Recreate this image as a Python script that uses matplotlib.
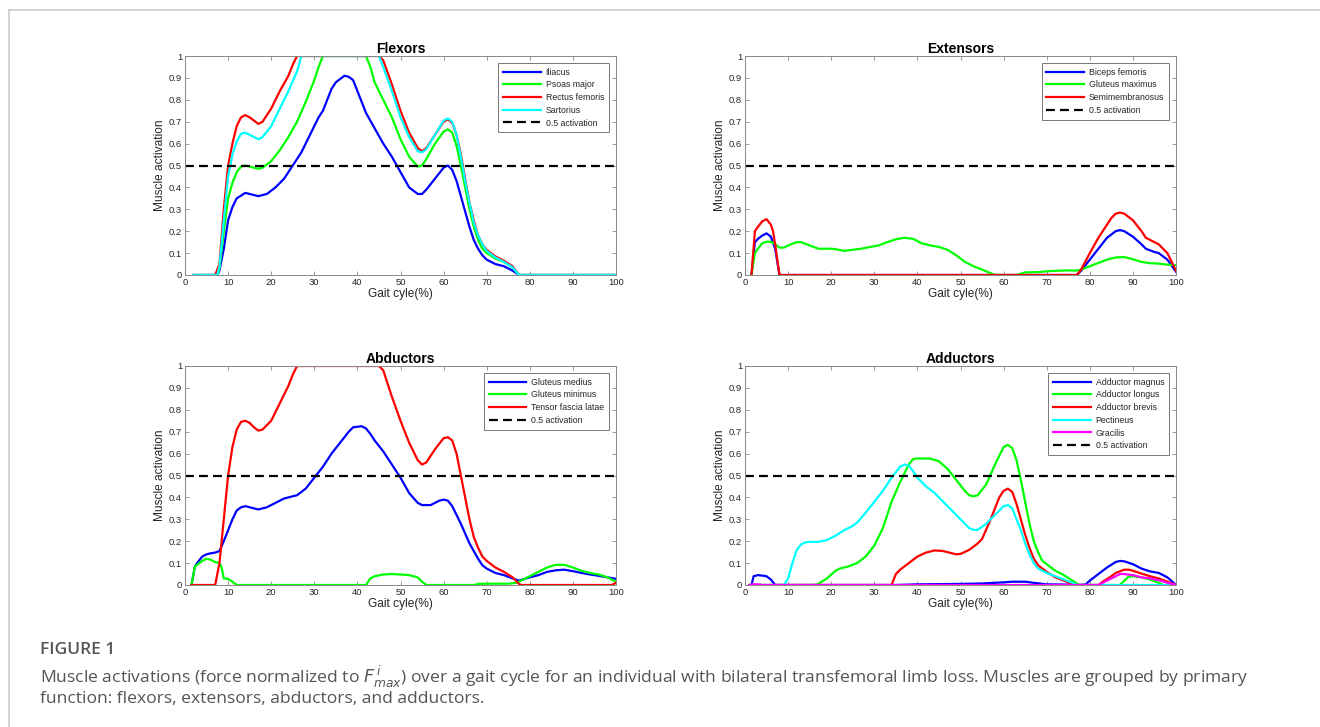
import matplotlib
matplotlib.use("Agg")
import matplotlib.pyplot as plt
from matplotlib.lines import Line2D

# ---------------- data ----------------
# Flexors
ili_x = [2, 7.5, 8, 9, 10, 11, 12, 14, 15, 17, 19, 21, 23, 25, 27, 29, 31, 32, 33, 34, 35, 37, 38, 39, 40, 41, 42, 44, 46, 48, 50, 52, 54, 55, 56, 58, 60, 61, 62, 63, 64, 65, 66, 67, 68, 69, 70, 72, 74, 76, 77.5, 100]
ili_y = [0, 0, 0.02, 0.12, 0.25, 0.31, 0.35, 0.375, 0.37, 0.36, 0.37, 0.4, 0.44, 0.5, 0.56, 0.64, 0.72, 0.75, 0.8, 0.85, 0.88, 0.91, 0.905, 0.89, 0.84, 0.79, 0.74, 0.67, 0.6, 0.54, 0.47, 0.4, 0.37, 0.37, 0.39, 0.44, 0.49, 0.5, 0.48, 0.43, 0.36, 0.29, 0.22, 0.16, 0.12, 0.09, 0.07, 0.05, 0.04, 0.02, 0, 0]
pso_x = [2, 7.5, 8, 9, 10, 11, 12, 13, 14, 15, 17, 18, 20, 22, 24, 26, 28, 30, 31, 32, 42, 43, 44, 46, 48, 50, 52, 54, 55, 56, 58, 60, 61, 62, 63, 64, 65, 66, 67, 68, 69, 70, 72, 74, 76, 77.5, 100]
pso_y = [0, 0, 0.03, 0.2, 0.35, 0.42, 0.47, 0.495, 0.5, 0.495, 0.485, 0.49, 0.52, 0.57, 0.63, 0.7, 0.79, 0.89, 0.95, 1.0, 1.0, 0.95, 0.88, 0.8, 0.72, 0.62, 0.54, 0.495, 0.5, 0.53, 0.6, 0.655, 0.665, 0.65, 0.59, 0.5, 0.4, 0.3, 0.22, 0.16, 0.12, 0.1, 0.075, 0.06, 0.035, 0, 0]
rec_x = [2, 7, 8, 9, 10, 11, 12, 13, 14, 15, 17, 18, 20, 22, 24, 25, 26, 45, 46, 48, 50, 52, 54, 55, 56, 58, 60, 61, 62, 63, 64, 65, 66, 67, 68, 69, 70, 72, 74, 76, 77.5, 100]
rec_y = [0, 0, 0.05, 0.3, 0.5, 0.6, 0.68, 0.72, 0.73, 0.72, 0.69, 0.7, 0.76, 0.84, 0.91, 0.96, 1.0, 1.0, 0.98, 0.87, 0.75, 0.65, 0.58, 0.565, 0.58, 0.64, 0.7, 0.71, 0.695, 0.64, 0.55, 0.44, 0.33, 0.25, 0.18, 0.14, 0.115, 0.085, 0.065, 0.04, 0, 0]
sar_x = [2, 7.5, 8, 9, 10, 11, 12, 13, 14, 15, 17, 18, 20, 22, 24, 26, 27, 45, 46, 48, 50, 52, 54, 55, 56, 58, 60, 61, 62, 63, 64, 65, 66, 67, 68, 69, 70, 72, 74, 76, 77.5, 100]
sar_y = [0, 0, 0.04, 0.25, 0.45, 0.55, 0.61, 0.645, 0.65, 0.64, 0.62, 0.63, 0.68, 0.76, 0.84, 0.93, 1.0, 1.0, 0.95, 0.84, 0.72, 0.63, 0.565, 0.56, 0.575, 0.64, 0.705, 0.715, 0.7, 0.64, 0.54, 0.43, 0.33, 0.24, 0.18, 0.14, 0.11, 0.08, 0.06, 0.035, 0, 0]

# Extensors
bic_x = [1.5, 2.3, 3, 4, 5, 6, 7, 8, 77, 78, 80, 82, 84, 86, 87, 88, 90, 92, 93, 95, 96, 98, 100]
bic_y = [0, 0.15, 0.165, 0.18, 0.19, 0.175, 0.12, 0, 0, 0.02, 0.07, 0.12, 0.17, 0.2, 0.205, 0.2, 0.175, 0.14, 0.12, 0.105, 0.1, 0.07, 0.015]
gmax_x = [1.5, 2.3, 3, 4, 5, 6, 7, 8, 9, 10, 12, 13, 15, 17, 20, 21, 23, 25, 27, 29, 31, 33, 35, 37, 39, 41, 43, 45, 47, 49, 51, 53, 55, 57, 58, 63, 65, 68, 70, 72, 75, 77, 78, 80, 82, 84, 86, 88, 90, 92, 94, 96, 98, 100]
gmax_y = [0, 0.1, 0.12, 0.145, 0.152, 0.152, 0.14, 0.125, 0.125, 0.135, 0.15, 0.15, 0.135, 0.12, 0.12, 0.118, 0.11, 0.115, 0.12, 0.128, 0.135, 0.15, 0.163, 0.17, 0.165, 0.145, 0.135, 0.128, 0.115, 0.09, 0.06, 0.04, 0.025, 0.008, 0, 0, 0.012, 0.013, 0.017, 0.019, 0.021, 0.02, 0.025, 0.04, 0.055, 0.07, 0.08, 0.082, 0.072, 0.06, 0.054, 0.052, 0.047, 0.045]
semi_x = [1.5, 2.3, 3, 4, 5, 6, 6.5, 7, 8, 77, 78, 80, 82, 84, 85, 86, 87, 88, 90, 92, 93, 95, 96, 98, 99, 100]
semi_y = [0, 0.2, 0.22, 0.245, 0.255, 0.23, 0.2, 0.14, 0, 0, 0.025, 0.1, 0.17, 0.23, 0.26, 0.28, 0.285, 0.28, 0.25, 0.2, 0.17, 0.15, 0.14, 0.1, 0.06, 0.02]

# Abductors
gmed_x = [1.5, 2.3, 3, 4, 5, 6, 7, 8, 9, 10, 11, 12, 13, 14, 15, 17, 19, 21, 23, 25, 26, 27, 28, 30, 32, 34, 36, 38, 39, 41, 42, 43, 44, 46, 48, 50, 52, 54, 55, 57, 59, 60, 61, 62, 64, 66, 68, 69, 70, 72, 74, 76, 77.5, 80, 82, 84, 86, 88, 90, 92, 94, 96, 98, 100]
gmed_y = [0, 0.085, 0.105, 0.13, 0.14, 0.145, 0.148, 0.155, 0.2, 0.25, 0.3, 0.34, 0.355, 0.36, 0.355, 0.345, 0.355, 0.375, 0.395, 0.405, 0.41, 0.425, 0.44, 0.49, 0.54, 0.6, 0.65, 0.7, 0.72, 0.725, 0.715, 0.69, 0.66, 0.61, 0.55, 0.49, 0.42, 0.375, 0.365, 0.365, 0.385, 0.39, 0.385, 0.36, 0.28, 0.19, 0.12, 0.09, 0.075, 0.055, 0.045, 0.03, 0.02, 0.035, 0.045, 0.06, 0.067, 0.07, 0.063, 0.055, 0.048, 0.042, 0.035, 0.028]
gmin_x = [1.5, 2.3, 3, 4, 5, 6, 7, 8, 8.5, 9, 10, 11, 12, 42, 43, 44, 46, 48, 50, 52, 54, 55, 56, 67, 68, 70, 75, 77, 78, 80, 82, 84, 86, 88, 90, 92, 94, 96, 98, 100]
gmin_y = [0, 0.085, 0.095, 0.11, 0.12, 0.115, 0.105, 0.1, 0.08, 0.03, 0.028, 0.015, 0, 0, 0.03, 0.04, 0.048, 0.05, 0.048, 0.045, 0.035, 0.015, 0, 0, 0.005, 0.006, 0.006, 0.01, 0.02, 0.04, 0.06, 0.08, 0.092, 0.092, 0.08, 0.065, 0.055, 0.048, 0.035, 0.015]
tfl_x = [1.5, 7, 8, 9, 10, 11, 12, 13, 14, 15, 16, 17, 18, 20, 22, 24, 25, 26, 45, 46, 47, 48, 50, 52, 54, 55, 56, 58, 60, 61, 62, 63, 64, 65, 66, 67, 68, 69, 70, 72, 74, 76, 77.5, 78, 99, 100]
tfl_y = [0, 0, 0.1, 0.3, 0.5, 0.63, 0.71, 0.745, 0.75, 0.74, 0.72, 0.705, 0.71, 0.75, 0.83, 0.91, 0.96, 1.0, 1.0, 0.98, 0.92, 0.86, 0.75, 0.65, 0.57, 0.55, 0.56, 0.62, 0.67, 0.675, 0.66, 0.6, 0.5, 0.4, 0.3, 0.22, 0.17, 0.13, 0.11, 0.08, 0.06, 0.035, 0.005, 0, 0, 0.01]

# Adductors
amag_x = [1.5, 2, 3, 4, 5, 6, 7, 35, 40, 45, 50, 55, 58, 60, 62, 65, 67, 70, 75, 77, 79, 80, 82, 84, 86, 87, 88, 90, 92, 94, 96, 98, 100]
amag_y = [0, 0.04, 0.045, 0.043, 0.04, 0.025, 0, 0, 0.003, 0.004, 0.005, 0.007, 0.01, 0.012, 0.015, 0.015, 0.01, 0.003, 0.002, 0, 0.002, 0.02, 0.05, 0.08, 0.105, 0.11, 0.108, 0.095, 0.075, 0.062, 0.055, 0.035, 0]
alon_x = [1.5, 16, 17, 19, 21, 22, 24, 26, 28, 30, 32, 34, 36, 38, 39, 40, 43, 45, 47, 49, 51, 52, 53, 54, 56, 58, 60, 61, 62, 63, 64, 65, 66, 67, 68, 69, 70, 72, 74, 76, 77.5, 87, 88, 89, 90, 92, 94, 96, 97, 100]
alon_y = [0, 0, 0.005, 0.03, 0.065, 0.075, 0.085, 0.1, 0.13, 0.18, 0.26, 0.38, 0.47, 0.55, 0.575, 0.578, 0.577, 0.565, 0.53, 0.48, 0.43, 0.41, 0.405, 0.41, 0.46, 0.55, 0.63, 0.64, 0.625, 0.57, 0.48, 0.38, 0.28, 0.2, 0.15, 0.11, 0.095, 0.065, 0.045, 0.02, 0, 0, 0.02, 0.038, 0.04, 0.035, 0.025, 0.01, 0, 0]
abre_x = [1, 34, 35, 36, 38, 40, 42, 44, 46, 48, 49, 50, 52, 54, 55, 57, 59, 60, 61, 62, 63, 64, 65, 66, 67, 68, 70, 72, 74, 76, 77, 82, 83, 85, 86, 88, 89, 90, 92, 94, 96, 98, 100]
abre_y = [0, 0, 0.05, 0.07, 0.1, 0.13, 0.148, 0.158, 0.155, 0.145, 0.14, 0.142, 0.16, 0.19, 0.21, 0.3, 0.4, 0.43, 0.44, 0.425, 0.37, 0.3, 0.23, 0.17, 0.12, 0.09, 0.06, 0.035, 0.02, 0.005, 0, 0, 0.015, 0.04, 0.055, 0.07, 0.07, 0.065, 0.052, 0.04, 0.03, 0.015, 0]
pect_x = [1, 9, 10, 11, 12, 13, 14, 15, 17, 19, 21, 23, 25, 26, 28, 30, 32, 34, 36, 37, 38, 39, 40, 42, 44, 46, 48, 50, 52, 53, 54, 56, 58, 60, 61, 62, 63, 64, 65, 66, 67, 68, 70, 72, 74, 76, 77, 100]
pect_y = [0, 0, 0.03, 0.1, 0.16, 0.185, 0.195, 0.197, 0.197, 0.205, 0.225, 0.25, 0.27, 0.285, 0.33, 0.38, 0.43, 0.49, 0.54, 0.55, 0.545, 0.52, 0.49, 0.45, 0.42, 0.38, 0.34, 0.3, 0.26, 0.252, 0.252, 0.28, 0.32, 0.36, 0.365, 0.35, 0.3, 0.25, 0.19, 0.14, 0.1, 0.075, 0.055, 0.04, 0.025, 0.01, 0, 0]
grac_x = [1, 2, 3, 4, 82, 83, 85, 87, 88, 90, 92, 94, 96, 98, 100]
grac_y = [0, 0.003, 0.003, 0, 0, 0.01, 0.03, 0.05, 0.05, 0.045, 0.035, 0.03, 0.022, 0.01, 0]

titles = ["Flexors", "Extensors", "Abductors", "Adductors"]
x_ticks = list(range(0, 101, 10))
y_ticks = [0, 0.1, 0.2, 0.3, 0.4, 0.5, 0.6, 0.7, 0.8, 0.9, 1]
y_ticklabels = ["0", "0.1", "0.2", "0.3", "0.4", "0.5", "0.6", "0.7", "0.8", "0.9", "1"]

BLUE, GREEN, RED, CYAN, MAG = "#0000ff", "#00ff00", "#ff0000", "#00ffff", "#ff00ff"

panels = [
    [(ili_x, ili_y, "Iliacus", BLUE), (pso_x, pso_y, "Psoas major", GREEN),
     (rec_x, rec_y, "Rectus femoris", RED), (sar_x, sar_y, "Sartorius", CYAN)],
    [(bic_x, bic_y, "Biceps femoris", BLUE), (gmax_x, gmax_y, "Gluteus maximus", GREEN),
     (semi_x, semi_y, "Semimembranosus", RED)],
    [(gmed_x, gmed_y, "Gluteus medius", BLUE), (gmin_x, gmin_y, "Gluteus minimus", GREEN),
     (tfl_x, tfl_y, "Tensor fascia latae", RED)],
    [(amag_x, amag_y, "Adductor magnus", BLUE), (alon_x, alon_y, "Adductor longus", GREEN),
     (abre_x, abre_y, "Adductor brevis", RED), (pect_x, pect_y, "Pectineus", CYAN),
     (grac_x, grac_y, "Gracilis", MAG)],
]

plt.rcParams['font.family'] = ['Liberation Sans', 'DejaVu Sans']

fig = plt.figure(figsize=(13.2, 7.27), dpi=100)
W, H = 1320, 727
positions = [(185, 56), (745, 56), (185, 366), (745, 366)]
aw, ah = 431, 219
axcol = "#888888"
txtcol = "#262626"

for (px, py), title, series in zip(positions, titles, panels):
    ax = fig.add_axes([px / W, 1 - (py + ah) / H, aw / W, ah / H])
    for xs, ys, lab, col in series:
        ax.plot(xs, ys, color=col, lw=1.6, label=lab)
    ax.axhline(0.5, color="black", lw=1.6, ls=(0, (4, 2.3)), label="0.5 activation")
    ax.set_xlim(0, 100)
    ax.set_ylim(0, 1)
    ax.set_xticks(x_ticks)
    ax.set_yticks(y_ticks)
    ax.set_yticklabels(y_ticklabels)
    ax.tick_params(direction="in", length=3, width=0.6, labelsize=6.8, colors=axcol,
                   labelcolor=txtcol, top=True, right=True, pad=2)
    for s in ax.spines.values():
        s.set_color(axcol)
        s.set_linewidth(0.7)
    ax.set_title(title, fontsize=10, fontweight="bold", color="black", pad=2)
    ax.set_xlabel("Gait cyle(%)", fontsize=8.6, color=txtcol, labelpad=1)
    ax.set_ylabel("Muscle activation", fontsize=8.6, color=txtcol, labelpad=2)
    leg = ax.legend(loc="upper right", fontsize=6.3, frameon=True, fancybox=False,
                    edgecolor="#555555", handlelength=4.3, handletextpad=0.55,
                    borderpad=0.55, labelspacing=0.42, borderaxespad=0.8)
    leg.get_frame().set_linewidth(0.7)
    for t in leg.get_texts():
        t.set_color(txtcol)

# frame lines
fig.add_artist(Line2D([9 / W, 1.0], [1 - 10 / H, 1 - 10 / H], color="#cccccc", lw=1.2))
fig.add_artist(Line2D([9 / W, 9 / W], [0, 1 - 10 / H], color="#cccccc", lw=1.2))

fig.text(40 / W, 1 - 650 / H, "FIGURE 1", fontsize=12.5, color="#555555", fontweight="semibold",
         family=["Open Sans", "DejaVu Sans"], va="center")
fig.text(40 / W, 1 - 677 / H,
         r"Muscle activations (force normalized to $F^{\,i}_{max}$) over a gait cycle for an individual with bilateral transfemoral limb loss. Muscles are grouped by primary",
         fontsize=12.6, color="#555555", family=["Open Sans", "DejaVu Sans"], va="center")
fig.text(40 / W, 1 - 699 / H, "function: flexors, extensors, abductors, and adductors.",
         fontsize=12.6, color="#555555", family=["Open Sans", "DejaVu Sans"], va="center")

fig.savefig("out.png", dpi=100)
